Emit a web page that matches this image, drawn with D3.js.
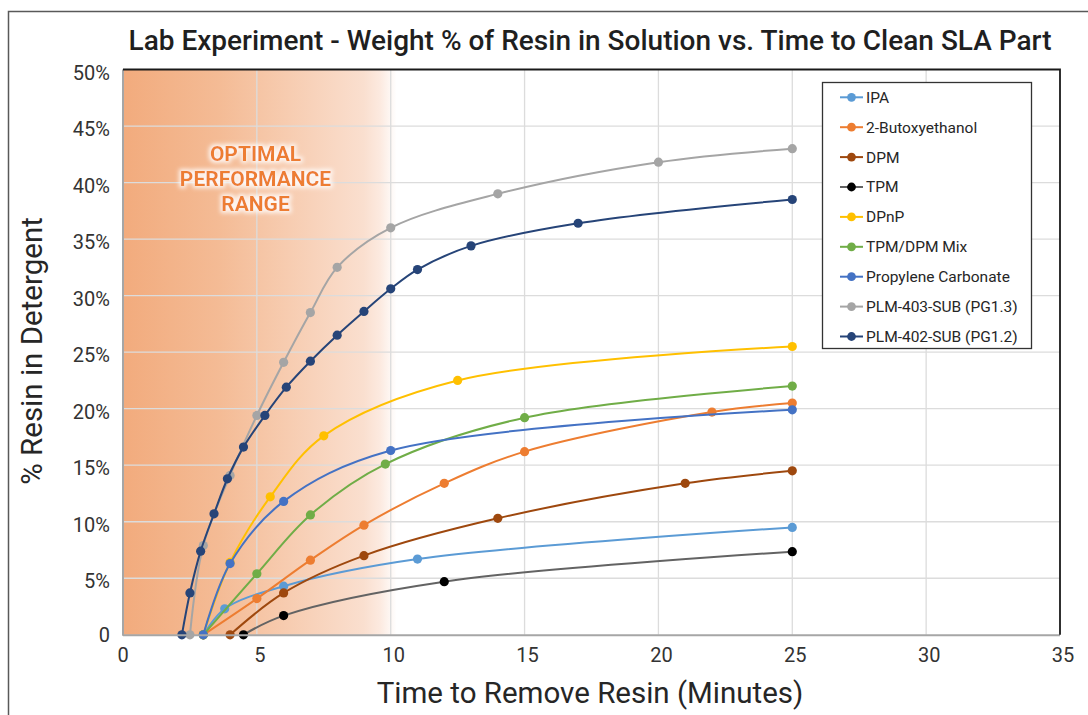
<!DOCTYPE html>
<html>
<head>
<meta charset="utf-8">
<script src="https://cdn.jsdelivr.net/npm/d3@7"></script>
<style>
  html, body { margin: 0; padding: 0; background: #fff; }
  svg { display: block; font-family: Roboto, "Open Sans", sans-serif; }
</style>
</head>
<body>
<svg id="chart" width="1088" height="715"></svg>
<script>
// ---------- data ----------
const chartTitle = "Lab Experiment - Weight % of Resin in Solution vs. Time to Clean SLA Part";
const xLabel = "Time to Remove Resin (Minutes)";
const yLabel = "% Resin in Detergent";
const xTicks = [0, 5, 10, 15, 20, 25, 30, 35];
const yTicks = [0, 5, 10, 15, 20, 25, 30, 35, 40, 45, 50];
const bandEnd = 10; // optimal performance range ends near 10 min
const bandText = ["OPTIMAL", "PERFORMANCE", "RANGE"];

const seriesNames = ["IPA", "2-Butoxyethanol", "DPM", "TPM", "DPnP", "TPM/DPM Mix",
  "Propylene Carbonate", "PLM-403-SUB (PG1.3)", "PLM-402-SUB (PG1.2)"];

const ipa        = [[3,0],[3.8,2.3],[6,4.3],[11,6.7],[25,9.5]];
const butoxy     = [[3,0],[5,3.2],[7,6.6],[9,9.7],[12,13.4],[15,16.2],[22,19.7],[25,20.5]];
const dpm        = [[4,0],[6,3.7],[9,7.0],[14,10.3],[21,13.4],[25,14.5]];
const tpm        = [[4.5,0],[6,1.7],[12,4.7],[25,7.35]];
const dpnp       = [[3,0],[4,6.4],[5.5,12.2],[7.5,17.6],[12.5,22.5],[25,25.5]];
const tpmDpmMix  = [[3,0],[5,5.4],[7,10.6],[9.8,15.1],[15,19.2],[25,22.0]];
const propCarb   = [[3,0],[4,6.3],[6,11.8],[10,16.3],[25,19.9]];
const plm403     = [[2.5,0],[3,7.9],[4,14.1],[5,19.4],[6,24.1],[7,28.5],[8,32.5],[10,36.0],[14,39.0],[20,41.8],[25,43.0]];
const plm402     = [[2.2,0],[2.5,3.7],[2.9,7.4],[3.4,10.7],[3.9,13.8],[4.5,16.6],[5.3,19.4],[6.1,21.9],[7,24.2],[8,26.5],[9,28.6],[10,30.6],[11,32.3],[13,34.4],[17,36.4],[25,38.5]];

const seriesData = [ipa, butoxy, dpm, tpm, dpnp, tpmDpmMix, propCarb, plm403, plm402];

// ---------- styles ----------
const lineColors   = ["#5B9BD5", "#ED7D31", "#9E480E", "#636363", "#FFC000", "#70AD47", "#4472C4", "#A5A5A5", "#264478"];
const markerColors = ["#5B9BD5", "#ED7D31", "#9E480E", "#000000", "#FFC000", "#70AD47", "#4472C4", "#A5A5A5", "#264478"];

// ---------- layout ----------
const svg = d3.select("#chart");
const L = 123, R = 1060, T = 69.5, B = 634.8;
const x = d3.scaleLinear().domain([0, 35]).range([L, R]);
const y = d3.scaleLinear().domain([0, 50]).range([B, T]);

// defs
const defs = svg.append("defs");
const grad = defs.append("linearGradient").attr("id", "band")
  .attr("x1", "0%").attr("x2", "100%").attr("y1", "0%").attr("y2", "0%");
[[0, "#F2AB7D"], [0.35, "#F4BB95"], [0.6, "#F7CCB0"], [0.88, "#FADFCF"], [0.94, "#FCEAE0"], [1, "#FFFFFF"]]
  .forEach(([o, c]) => grad.append("stop").attr("offset", o).attr("stop-color", c));

const glow = defs.append("filter").attr("id", "glow").attr("x", "-20%").attr("y", "-40%").attr("width", "140%").attr("height", "180%");
glow.append("feMorphology").attr("in", "SourceAlpha").attr("operator", "dilate").attr("radius", 1.5).attr("result", "d");
glow.append("feGaussianBlur").attr("in", "d").attr("stdDeviation", 2).attr("result", "b");
glow.append("feFlood").attr("flood-color", "#ffffff").attr("flood-opacity", 0.85).attr("result", "f");
glow.append("feComposite").attr("in", "f").attr("in2", "b").attr("operator", "in").attr("result", "g");
const gm = glow.append("feMerge");
gm.append("feMergeNode").attr("in", "g");
gm.append("feMergeNode").attr("in", "SourceGraphic");

// outer chart border (extends beyond the photo edge on right and bottom)
svg.append("rect").attr("x", 8.5).attr("y", 11.5).attr("width", 1200).attr("height", 800)
  .attr("fill", "none").attr("stroke", "#595959").attr("stroke-width", 1.5);

// band
svg.append("rect").attr("x", x(0)).attr("y", T).attr("width", x(bandEnd) + 6 - x(0)).attr("height", B - T)
  .attr("fill", "url(#band)");

// gridlines
svg.append("g").selectAll("line").data(yTicks.filter(d => d > 0 && d < 50)).join("line")
  .attr("x1", L).attr("x2", R).attr("y1", d => y(d)).attr("y2", d => y(d))
  .attr("stroke", "#DCDCDC").attr("stroke-width", 1.3);
svg.append("g").selectAll("line").data(xTicks.filter(d => d > 0 && d < 35)).join("line")
  .attr("y1", T).attr("y2", B).attr("x1", d => x(d)).attr("x2", d => x(d))
  .attr("stroke", "#DCDCDC").attr("stroke-width", 1.3);

// band text
svg.append("g").attr("filter", "url(#glow)").selectAll("text").data(bandText).join("text")
  .attr("x", 255.5).attr("y", (d, i) => 153.5 + i * 25)
  .attr("dy", "0.35em").attr("text-anchor", "middle")
  .attr("font-size", 21).attr("font-weight", 700).attr("fill", "#ED7D31")
  .text(d => d);

// series
const line = d3.line().x(d => x(d[0])).y(d => y(d[1])).curve(d3.curveCatmullRom.alpha(0.5));
const sg = svg.append("g");
seriesData.forEach((data, i) => {
  const g = sg.append("g");
  g.append("path").datum(data).attr("d", line).attr("fill", "none")
    .attr("stroke", lineColors[i]).attr("stroke-width", 2);
  g.selectAll("circle").data(data).join("circle")
    .attr("cx", d => x(d[0])).attr("cy", d => y(d[1])).attr("r", 4.6)
    .attr("fill", markerColors[i]);
});

// axes lines
svg.append("line").attr("x1", L).attr("x2", L).attr("y1", T).attr("y2", B + 1)
  .attr("stroke", "#A6A6A6").attr("stroke-width", 2);
svg.append("line").attr("x1", L).attr("x2", R).attr("y1", B + 0.5).attr("y2", B + 0.5)
  .attr("stroke", "#A6A6A6").attr("stroke-width", 2);
// plot area top/right border
svg.append("path").attr("d", `M${L},${T} H${R} V${B}`).attr("fill", "none")
  .attr("stroke", "#1a1a1a").attr("stroke-width", 1.8);

// tick labels
svg.append("g").selectAll("text").data(yTicks).join("text")
  .attr("x", 110).attr("y", d => y(d) + (d === 0 ? 0 : 3)).attr("dy", "0.35em")
  .attr("text-anchor", "end").attr("font-size", 20).attr("fill", "#333")
  .text(d => d === 0 ? "0" : d + "%");
svg.append("g").selectAll("text").data(xTicks).join("text")
  .attr("x", d => x(d) + (d === 0 ? 0 : 3)).attr("y", 655).attr("dy", "0.35em")
  .attr("text-anchor", "middle").attr("font-size", 20).attr("fill", "#333")
  .text(d => d);

// titles
svg.append("text").attr("x", 590).attr("y", 40).attr("dy", "0.35em").attr("text-anchor", "middle")
  .attr("font-size", 28).attr("font-weight", 500).attr("fill", "#1f1f1f").text(chartTitle);
svg.append("text").attr("x", 590).attr("y", 693).attr("dy", "0.35em").attr("text-anchor", "middle")
  .attr("font-size", 29.5).attr("fill", "#262626").text(xLabel);
svg.append("text").attr("transform", "translate(32,351) rotate(-90)").attr("dy", "0.35em")
  .attr("text-anchor", "middle").attr("font-size", 29.5).attr("fill", "#262626").text(yLabel);

// legend
const lg = svg.append("g");
lg.append("rect").attr("x", 822.5).attr("y", 82.5).attr("width", 209).attr("height", 266)
  .attr("fill", "#fff").attr("stroke", "#333").attr("stroke-width", 1.3);
seriesNames.forEach((name, i) => {
  const cy = 97.3 + i * 29.9;
  lg.append("line").attr("x1", 840).attr("x2", 863).attr("y1", cy).attr("y2", cy)
    .attr("stroke", lineColors[i]).attr("stroke-width", 2);
  lg.append("circle").attr("cx", 851.5).attr("cy", cy).attr("r", 4.4).attr("fill", markerColors[i]);
  lg.append("text").attr("x", 866).attr("y", cy).attr("dy", "0.35em")
    .attr("font-size", 15.5).attr("fill", "#262626").text(name);
});
</script>
</body>
</html>
